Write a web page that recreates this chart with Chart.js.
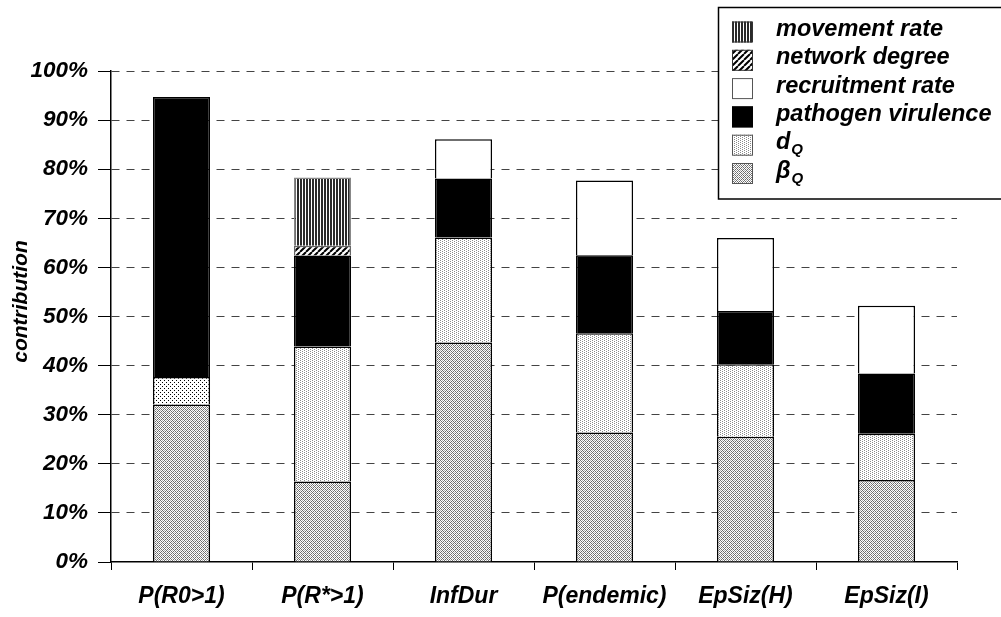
<!DOCTYPE html>
<html>
<head>
<meta charset="utf-8">
<script src="https://cdn.jsdelivr.net/npm/chart.js@4/dist/chart.umd.min.js"></script>
<style>
  html, body { margin: 0; padding: 0; background: #fff; }
  #wrap { position: relative; width: 1001px; height: 617px; }
</style>
</head>
<body>
<div id="wrap"><canvas id="c" width="1001" height="617"></canvas></div>
<script>
// ---- data ----
const categories = ['P(R0>1)', 'P(R*>1)', 'InfDur', 'P(endemic)', 'EpSiz(H)', 'EpSiz(I)'];
const betaQ       = [32.1, 16.4, 44.7, 26.4, 25.5, 16.7];
const dQ          = [5.6, 27.5, 21.4, 20.2, 14.8, 9.4];
const virulence   = [57.0, 18.5, 12.0, 15.9, 10.8, 12.3];
const recruitment = [0, 0, 8.0, 15.2, 14.9, 13.8];
const network     = [0, 2.0, 0, 0, 0, 0];
const movement    = [0, 13.9, 0, 0, 0, 0];
const yTicks      = [0, 10, 20, 30, 40, 50, 60, 70, 80, 90, 100];
const yTitle      = 'contribution';

// ---- patterns ----
function makePattern(w, h, draw) {
  const t = document.createElement('canvas');
  t.width = w; t.height = h;
  const c = t.getContext('2d');
  draw(c);
  return document.createElement('canvas').getContext('2d').createPattern(t, 'repeat');
}
const patBeta = makePattern(4, 4, c => {
  c.fillStyle = '#fff'; c.fillRect(0, 0, 4, 4);
  c.fillStyle = '#6e6e6e';
  for (let x = 0; x < 4; x++) for (let y = 0; y < 4; y++) {
    if ((x + y) % 4 === 0 || (x - y + 4) % 4 === 0) c.fillRect(x, y, 1, 1);
  }
  c.fillStyle = '#b0b0b0';
  c.fillRect(2, 0, 1, 1); c.fillRect(0, 2, 1, 1);
});
const patD = makePattern(4, 2, c => {
  c.fillStyle = '#fff'; c.fillRect(0, 0, 4, 2);
  c.fillStyle = '#8a8a8a';
  c.fillRect(0, 0, 1, 1); c.fillRect(2, 1, 1, 1);
});
const patDDark = makePattern(4, 4, c => {
  c.fillStyle = '#fff'; c.fillRect(0, 0, 4, 4);
  c.fillStyle = '#000';
  c.fillRect(0, 0, 1, 1); c.fillRect(2, 2, 1, 1);
});
const patNet = makePattern(6, 6, c => {
  c.fillStyle = '#fff'; c.fillRect(0, 0, 6, 6);
  c.strokeStyle = '#000'; c.lineWidth = 2;
  c.beginPath();
  for (let k = -6; k <= 12; k += 6) { c.moveTo(k, 6); c.lineTo(k + 6, 0); }
  c.stroke();
});
const patMove = makePattern(3, 3, c => {
  c.fillStyle = '#fff'; c.fillRect(0, 0, 3, 3);
  c.fillStyle = '#2a2a2a'; c.fillRect(0, 0, 2, 3);
});

const FONT = '"Liberation Sans", Arial, sans-serif';
Chart.defaults.font.family = FONT;
Chart.defaults.color = '#000';

const series = [
  { label: 'βQ', data: betaQ, bg: patBeta, border: '#000' },
  { label: 'dQ', data: dQ, bg: [patDDark, patD, patD, patD, patD, patD], border: '#000' },
  { label: 'pathogen virulence', data: virulence, bg: '#000', border: '#000' },
  { label: 'recruitment rate', data: recruitment, bg: '#fff', border: '#000' },
  { label: 'network degree', data: network, bg: patNet, border: '#666' },
  { label: 'movement rate', data: movement, bg: patMove, border: '#888' }
];

// legend (top-to-bottom order)
const legendItems = [
  { main: 'movement rate', fill: patMove, stroke: '#333' },
  { main: 'network degree', fill: patNet, stroke: '#333' },
  { main: 'recruitment rate', fill: '#fff', stroke: '#555' },
  { main: 'pathogen virulence', fill: '#000', stroke: '#000' },
  { main: 'd', sub: 'Q', fill: patD, stroke: '#555' },
  { main: 'β', sub: 'Q', fill: patBeta, stroke: '#555' }
];

const legendPlugin = {
  id: 'boxLegend',
  afterDraw(chart) {
    const ctx = chart.ctx;
    ctx.save();
    // y-axis title
    ctx.save();
    ctx.translate(21.5, 301.5);
    ctx.rotate(-Math.PI / 2);
    ctx.font = 'italic bold 21px ' + FONT;
    ctx.fillStyle = '#000';
    ctx.textAlign = 'center';
    ctx.textBaseline = 'middle';
    ctx.fillText(yTitle, 0, 0);
    ctx.restore();

    ctx.fillStyle = '#fff';
    ctx.fillRect(718, 7, 290, 192);
    ctx.strokeStyle = '#000';
    ctx.lineWidth = 1.5;
    ctx.strokeRect(718.5, 7.5, 290, 191.5);
    legendItems.forEach((it, i) => {
      const cy = 32 + i * 28.3;
      ctx.fillStyle = it.fill;
      ctx.fillRect(732, cy - 10.5, 21, 21);
      ctx.strokeStyle = it.stroke;
      ctx.lineWidth = 1;
      ctx.strokeRect(732.5, cy - 10, 20, 20);
      ctx.fillStyle = '#000';
      ctx.textBaseline = 'alphabetic';
      ctx.textAlign = 'left';
      ctx.font = 'italic bold 23.5px ' + FONT;
      ctx.fillText(it.main, 776, cy + 4);
      if (it.sub) {
        const w = ctx.measureText(it.main).width;
        ctx.font = 'italic bold 15px ' + FONT;
        ctx.fillText(it.sub, 776 + w + 1, cy + 9);
      }
    });
    ctx.restore();
  }
};

new Chart(document.getElementById('c'), {
  type: 'bar',
  data: {
    labels: categories,
    datasets: series.map(s => ({
      label: s.label,
      data: s.data,
      backgroundColor: s.bg,
      borderColor: s.border,
      borderWidth: 1.5,
      categoryPercentage: 1,
      barPercentage: 0.405
    }))
  },
  options: {
    responsive: false,
    animation: false,
    layout: { padding: { left: 0, right: 44, top: 71, bottom: 0 } },
    plugins: { legend: { display: false }, tooltip: { enabled: false } },
    scales: {
      x: {
        stacked: true,
        afterFit(s) { s.height = 55; },
        grid: { offset: true, drawOnChartArea: false, color: '#000', tickLength: 8, tickColor: '#000', lineWidth: 1 },
        border: { color: '#000', width: 1.5 },
        ticks: { font: { size: 23, weight: 'bold', style: 'italic' }, padding: 13, maxRotation: 0, autoSkip: false }
      },
      y: {
        stacked: true,
        min: 0, max: 100,
        afterFit(s) { s.width = 111; },
        afterBuildTicks(s) { s.ticks = yTicks.map(v => ({ value: v })); },
        grid: {
          color: ctx => (ctx.tick && ctx.tick.value === 0) ? 'rgba(0,0,0,0)' : '#444',
          tickColor: '#000',
          tickLength: 13,
          lineWidth: 1
        },
        border: { color: '#000', width: 1.5, dash: [8, 7] },
        ticks: {
          font: { size: 22.5, weight: 'bold', style: 'italic' },
          padding: 10,
          callback: v => v + '%'
        }
      }
    }
  },
  plugins: [legendPlugin]
});
</script>
</body>
</html>
